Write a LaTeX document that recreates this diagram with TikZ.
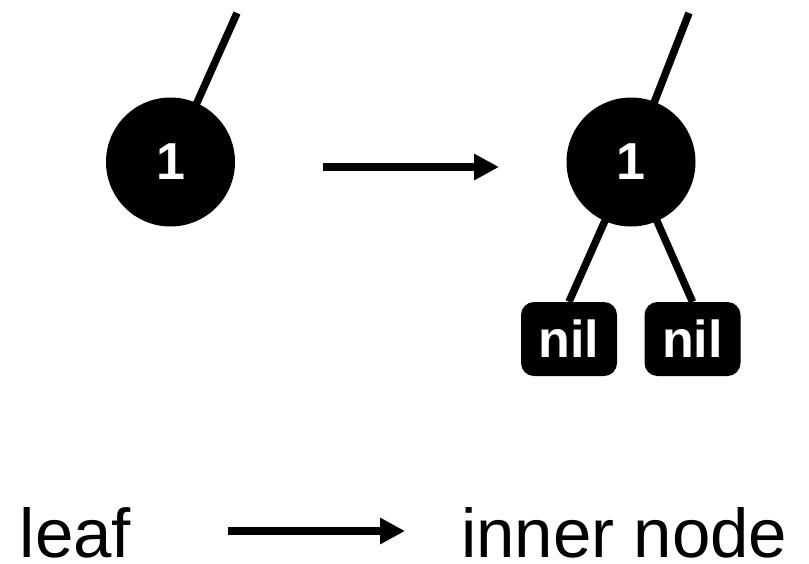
\documentclass[tikz,border=0pt]{standalone}
\usepackage{fontspec}
\setmainfont{Liberation Sans}
\usetikzlibrary{arrows.meta,backgrounds}
\begin{document}
\begin{tikzpicture}[x=1pt,y=-1pt,
  rbnode/.style={circle, fill=black, minimum size=129pt, inner sep=0pt, text=white, font=\fontsize{52}{52}\selectfont\bfseries},
  nilbox/.style={rectangle, rounded corners=13pt, fill=black, minimum width=96pt, minimum height=74pt, inner sep=0pt, text=white, font=\fontsize{52}{52}\selectfont\bfseries},
  edgeline/.style={line width=7.5pt},
  bigarrow/.style={line width=8pt, -{Triangle[length=25pt,width=25pt]}},
  txt/.style={font=\fontsize{69}{69}\selectfont, inner sep=0pt, anchor=base west}
]
\useasboundingbox (0,0) rectangle (809,563);
% left: leaf
\node[rbnode] (c1) at (170.5,162) {1};
\coordinate (t1) at (237,13);
% right: inner node
\node[rbnode] (c2) at (631,162) {1};
\coordinate (t2) at (689,13);
\node[nilbox] (nl) at (569,339) {nil};
\node[nilbox] (nr) at (692.5,339) {nil};
\begin{scope}[on background layer]
  \draw[edgeline] (t1) -- (c1.center);
  \draw[edgeline] (t2) -- (c2.center);
  \draw[edgeline] (nl.north) -- (c2.center);
  \draw[edgeline] (nr.north) -- (c2.center);
\end{scope}
% top arrow
\coordinate (a1) at (323,167);
\coordinate (a2) at (499,167);
\draw[bigarrow] (a1) -- (a2);
% bottom labels
\node[txt] (leaf) at (19.5,557) {leaf};
\node[txt] (inner) at (461,557) {inner node};
\coordinate (b1) at (228,531);
\coordinate (b2) at (405,531);
\draw[bigarrow] (b1) -- (b2);
\end{tikzpicture}
\end{document}
